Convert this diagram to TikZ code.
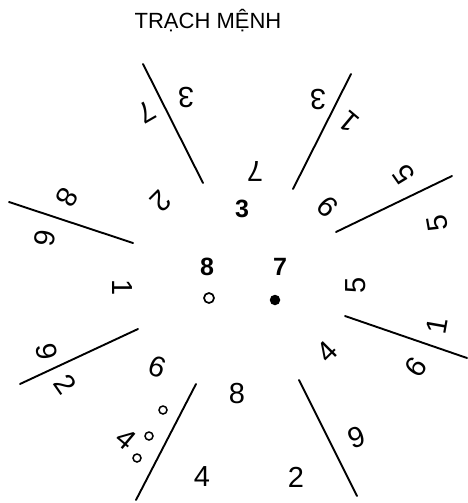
\documentclass[tikz,border=0pt]{standalone}
\usepackage{fontspec}
\setmainfont{Liberation Sans}
\begin{document}
\begin{tikzpicture}[x=1pt,y=-1pt]
\tikzset{
  dg/.style={font=\fontsize{29}{29}\selectfont, inner sep=0pt},
  cdg/.style={font=\fontsize{25}{25}\selectfont\bfseries, inner sep=0pt},
  ttl/.style={font=\fontsize{22}{22}\selectfont, inner sep=0pt},
  ray/.style={line width=1.9pt, line cap=round},
  ring/.style={circle, draw, line width=1.5pt, minimum size=8pt, inner sep=0pt},
  cring/.style={circle, draw, line width=1.7pt, minimum size=10pt, inner sep=0pt},
  cdot/.style={circle, fill, minimum size=10.5pt, inner sep=0pt},
}
\useasboundingbox (0,0) rectangle (468,503);
% title
\node[ttl] (title) at (208,21) {TRẠCH MỆNH};
% ray end points
\coordinate (ula) at (143,64);  \coordinate (ulb) at (203,183);
\coordinate (ura) at (351,74);  \coordinate (urb) at (293,189);
\coordinate (rua) at (452,176); \coordinate (rub) at (336,232);
\coordinate (rla) at (467,358); \coordinate (rlb) at (345,316);
\coordinate (lua) at (9,202);   \coordinate (lub) at (133,243);
\coordinate (lla) at (20,384);  \coordinate (llb) at (138,329);
\coordinate (bla) at (136,500); \coordinate (blb) at (196,384);
\coordinate (bra) at (357,496); \coordinate (brb) at (299,380);
\foreach \p in {ul,ur,ru,rl,lu,ll,bl,br} \draw[ray] (\p a) -- (\p b);
% centre palace
\node[cdg] (c3) at (242,209) {3};
\node[cdg] (c8) at (207,267) {8};
\node[cdg] (c7) at (280,267) {7};
\node[cring] (cring) at (209,298) {};
\node[cdot] (cdot) at (275,300) {};
% top palace (S)
\node[dg, rotate=180] (t3a) at (186,97) {3};
\node[dg, rotate=180] (t3b) at (318,99) {3};
\node[dg, rotate=180] (t7) at (255,171) {7};
% upper right palace (SW)
\node[dg, rotate=140] (ur1) at (349,122) {1};
\node[dg, rotate=125] (ur5) at (404,175) {5};
\node[dg, rotate=135] (ur9) at (328,207) {9};
% right palace (W)
\node[dg, rotate=100] (r5a) at (437,223) {5};
\node[dg, rotate=80] (r1) at (437,326) {1};
\node[dg, rotate=90] (r5b) at (356,285) {5};
% lower right palace (NW)
\node[dg, rotate=55] (lr6) at (416,367) {6};
\node[dg, rotate=20] (lr9) at (357,437) {9};
\node[dg, rotate=45] (lr4) at (327,352) {4};
% bottom palace (N)
\node[dg] (b4) at (202,477) {4};
\node[dg] (b2) at (296,477) {2};
\node[dg] (b8) at (237,394) {8};
% lower left palace (NE)
\node[dg, rotate=-40] (ll4) at (126,439) {4};
\node[dg, rotate=-55] (ll2) at (65,384) {2};
\node[dg, rotate=-20] (ll6) at (157,367) {6};
\node[ring] (o1) at (163,410) {};
\node[ring] (o2) at (149,436) {};
\node[ring] (o3) at (137,458) {};
% left palace (E)
\node[dg, rotate=-80] (l9) at (47,352) {9};
\node[dg, rotate=-100] (l6) at (45,238) {6};
\node[dg, rotate=-90] (l1) at (122,288) {1};
% upper left palace (SE)
\node[dg, rotate=-120] (ul8) at (67,197) {8};
\node[dg, rotate=-150] (ul7) at (147,112) {7};
\node[dg, rotate=-135] (ul2) at (161,201) {2};
\end{tikzpicture}
\end{document}
